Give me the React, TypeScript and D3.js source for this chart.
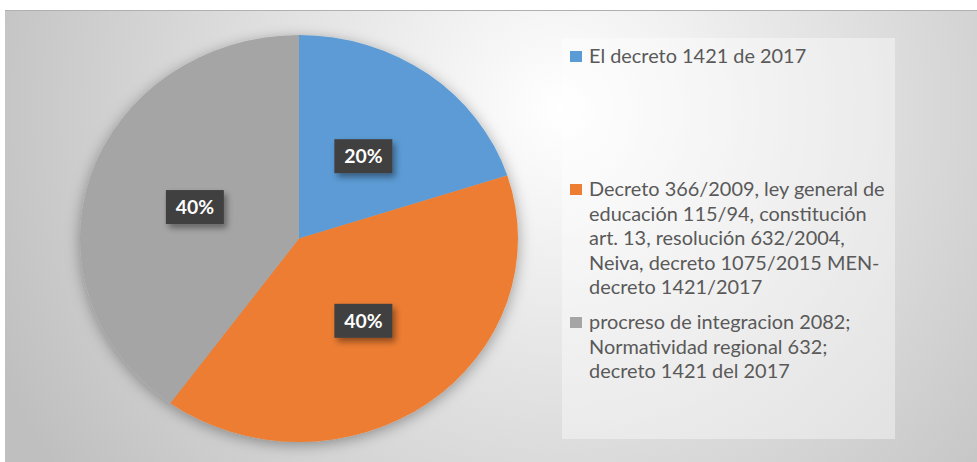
import React, { useEffect, useRef } from 'react';
import * as d3 from 'd3';

const categories = [
  'El decreto 1421 de 2017',
  'Decreto 366/2009, ley general de educación 115/94, constitución art. 13, resolución 632/2004, Neiva, decreto 1075/2015 MEN-decreto 1421/2017',
  'procreso de integracion 2082; Normatividad regional 632; decreto 1421 del 2017',
];
// legend text as it wraps in the picture
const legendLines = [
  ['El decreto 1421 de 2017'],
  ['Decreto 366/2009, ley general de', 'educación 115/94, constitución', 'art. 13, resolución 632/2004,', 'Neiva, decreto 1075/2015 MEN-', 'decreto 1421/2017'],
  ['procreso de integracion 2082;', 'Normatividad regional 632;', 'decreto 1421 del 2017'],
];
const values = [0.2, 0.4, 0.4];
const colors = ['#5B9BD5', '#ED7D31', '#A5A5A5'];

const W = 977;
const H = 462;

const App: React.FC = () => {
  const svgRef = useRef<SVGSVGElement>(null);

  useEffect(() => {
    if (!svgRef.current) return;
    const svg = d3.select(svgRef.current);
    svg.selectAll('*').remove();

    const defs = svg.append('defs');

    // chart area background - light in the upper middle, greyer to the edges
    const bg = defs.append('radialGradient')
      .attr('id', 'bg-grad')
      .attr('gradientUnits', 'userSpaceOnUse')
      .attr('cx', 560).attr('cy', 110).attr('r', 620);
    bg.append('stop').attr('offset', '0%').attr('stop-color', '#ffffff');
    bg.append('stop').attr('offset', '100%').attr('stop-color', '#bfbfbf');

    const pieShadow = defs.append('filter').attr('id', 'pie-shadow')
      .attr('x', '-20%').attr('y', '-20%').attr('width', '140%').attr('height', '140%');
    pieShadow.append('feDropShadow')
      .attr('dx', 0).attr('dy', 3).attr('stdDeviation', 7)
      .attr('flood-color', '#000').attr('flood-opacity', 0.35);

    const boxShadow = defs.append('filter').attr('id', 'box-shadow')
      .attr('x', '-30%').attr('y', '-30%').attr('width', '170%').attr('height', '180%');
    boxShadow.append('feDropShadow')
      .attr('dx', 3).attr('dy', 4).attr('stdDeviation', 3)
      .attr('flood-color', '#000').attr('flood-opacity', 0.4);

    // page
    svg.append('rect').attr('width', W).attr('height', H).attr('fill', '#fff');
    svg.append('rect')
      .attr('x', 5).attr('y', 10).attr('width', W - 5).attr('height', H - 10)
      .attr('fill', 'url(#bg-grad)');
    svg.append('line')
      .attr('x1', 5).attr('x2', W).attr('y1', 10.5).attr('y2', 10.5)
      .attr('stroke', '#b0b0b0').attr('stroke-width', 1);

    // pie (the picture is stretched a little horizontally)
    const cx = 299;
    const cy = 238.5;
    const r = 203.5;
    const sx = 219 / 203.5;

    const pie = d3.pie<number>().sort(null).value(d => d);
    const arcs = pie(values);
    const arc = d3.arc<d3.PieArcDatum<number>>().innerRadius(0).outerRadius(r);
    const labelArc = d3.arc<d3.PieArcDatum<number>>().innerRadius(r * 0.5).outerRadius(r * 0.5);

    const g = svg.append('g')
      .attr('transform', `translate(${cx},${cy}) scale(${sx},1)`);

    g.append('g').attr('filter', 'url(#pie-shadow)')
      .selectAll('path')
      .data(arcs)
      .enter()
      .append('path')
      .attr('d', arc)
      .attr('fill', (d, i) => colors[i]);

    // data labels
    const fmt = d3.format('.0%');
    arcs.forEach((d, i) => {
      const [lx, ly] = labelArc.centroid(d);
      const px = cx + lx * sx;
      const py = cy + ly;
      svg.append('rect')
        .attr('x', px - 29).attr('y', py - 17)
        .attr('width', 58).attr('height', 34)
        .attr('fill', '#404040')
        .attr('filter', 'url(#box-shadow)');
      svg.append('text')
        .attr('transform', `translate(${px},${py}) scale(${sx},1)`)
        .attr('text-anchor', 'middle')
        .attr('dominant-baseline', 'central')
        .attr('font-family', 'Lato, "Open Sans", sans-serif')
        .attr('font-weight', 'bold')
        .attr('font-size', 18)
        .attr('fill', '#fff')
        .text(fmt(values[i]));
    });

    // legend
    svg.append('rect')
      .attr('x', 562).attr('y', 38)
      .attr('width', 333).attr('height', 401)
      .attr('fill', '#ffffff').attr('fill-opacity', 0.4);

    const legendTop = [63, 196, 329];
    const lineH = 24.6;
    legendLines.forEach((lines, i) => {
      svg.append('rect')
        .attr('x', 570).attr('y', legendTop[i] - 12)
        .attr('width', 12).attr('height', 11)
        .attr('fill', colors[i]);
      const t = svg.append('text')
        .attr('transform', `translate(589,0) scale(${sx},1)`)
        .attr('font-family', 'Lato, "Open Sans", sans-serif')
        .attr('font-size', 18.5)
        .attr('fill', '#595959');
      t.append('title').text(categories[i]);
      lines.forEach((ln, j) => {
        t.append('tspan')
          .attr('x', 0)
          .attr('y', legendTop[i] + j * lineH)
          .text(ln);
      });
    });
  }, []);

  return (
    <div style={{ position: 'absolute', left: 0, top: 0 }}>
      <svg ref={svgRef} width={W} height={H} style={{ display: 'block' }} />
    </div>
  );
};

export default App;
